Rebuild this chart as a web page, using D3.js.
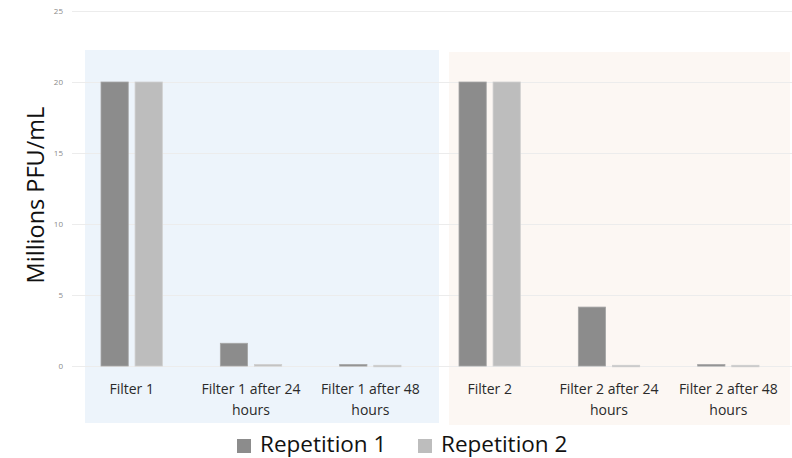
<!DOCTYPE html>
<html>
<head>
<meta charset="utf-8">
<script src="https://cdn.jsdelivr.net/npm/d3@7"></script>
<style>
  body { margin: 0; background: #fff; }
  svg { display: block; font-family: "Open Sans", "Noto Sans", sans-serif; }
</style>
</head>
<body>
<svg id="chart" width="792" height="458"></svg>
<script>
const categories = ["Filter 1", "Filter 1 after 24 hours", "Filter 1 after 48 hours",
                    "Filter 2", "Filter 2 after 24 hours", "Filter 2 after 48 hours"];
const seriesNames = ["Repetition 1", "Repetition 2"];
const rep1 = [20, 1.6, 0.1, 20, 4.15, 0.1];
const rep2 = [20, 0.1, 0.05, 20, 0.05, 0.05];
const yTicks = [0, 5, 10, 15, 20, 25];
// panels grouping the categories
const groups = [
    { from: "Filter 1", to: "Filter 1 after 48 hours", color: "#edf4fb" },
    { from: "Filter 2", to: "Filter 2 after 48 hours", color: "#fcf7f3" }
];

const svg = d3.select("#chart");
const colors = ["#8c8c8c", "#bdbdbd"];

const x = d3.scaleBand().domain(categories).range([72, 788]);
const y = d3.scaleLinear().domain([0, 25]).range([366, 11]);

// background panels, slightly offset from the band edges
const panelPad = [[13, 9, 50], [19, 2, 52]];
svg.append("g").selectAll("rect")
    .data(groups)
    .join("rect")
    .attr("x", (d, i) => x(d.from) + panelPad[i][0])
    .attr("y", (d, i) => panelPad[i][2])
    .attr("width", (d, i) => x(d.to) + x.bandwidth() + panelPad[i][1] - x(d.from) - panelPad[i][0])
    .attr("height", (d, i) => 425 - panelPad[i][2] - (i === 0 ? 2 : 0))
    .attr("fill", d => d.color);

// gridlines + tick labels
const yAxis = svg.append("g")
    .attr("transform", "translate(72,0)")
    .call(d3.axisLeft(y).tickValues(yTicks).tickSize(-720).tickPadding(9));
yAxis.select("path.domain").remove();
yAxis.selectAll("line").attr("stroke", "#ececec").attr("stroke-width", 1);
yAxis.selectAll("text")
    .attr("font-size", 8)
    .attr("fill", "#8a8a8a")
    .attr("font-family", "Open Sans, sans-serif");

// bars
const x1 = d3.scaleBand().domain([0, 1]).range([29, x.bandwidth() - 29]).paddingInner(0.2);
const series = [rep1, rep2];
series.forEach((vals, s) => {
    svg.append("g").selectAll("rect")
        .data(vals)
        .join("rect")
        .attr("x", (d, i) => x(categories[i]) + x1(s))
        .attr("y", d => y(d))
        .attr("width", x1.bandwidth())
        .attr("height", d => Math.max(y(0) - y(d), 1.5))
        .attr("fill", colors[s])
        .attr("stroke", s === 0 ? "#a6a6a6" : "#cfcfcf")
        .attr("stroke-width", 0.8);
});

// category labels (wrapped)
const catG = svg.append("g");
categories.forEach(c => {
    const cx = x(c) + x.bandwidth() / 2;
    const lines = c.includes("hours") ? [c.replace(" hours", ""), "hours"] : [c];
    const t = catG.append("text")
        .attr("text-anchor", "middle")
        .attr("font-size", 14)
        .attr("fill", "#2a2a2a");
    lines.forEach((l, k) => {
        t.append("tspan").attr("x", cx).attr("y", 394 + k * 21).text(l);
    });
});

// y title
svg.append("text")
    .attr("transform", "translate(44,195) rotate(-90)")
    .attr("text-anchor", "middle")
    .attr("font-size", 23.5)
    .attr("fill", "#111")
    .text("Millions PFU/mL");

// legend
const legend = svg.append("g");
const legX = [237, 418];
seriesNames.forEach((n, s) => {
    legend.append("rect")
        .attr("x", legX[s]).attr("y", 439)
        .attr("width", 14).attr("height", 14)
        .attr("fill", colors[s]);
    legend.append("text")
        .attr("x", legX[s] + 23).attr("y", 452)
        .attr("font-size", 22.5)
        .attr("fill", "#111")
        .text(n);
});
</script>
</body>
</html>
